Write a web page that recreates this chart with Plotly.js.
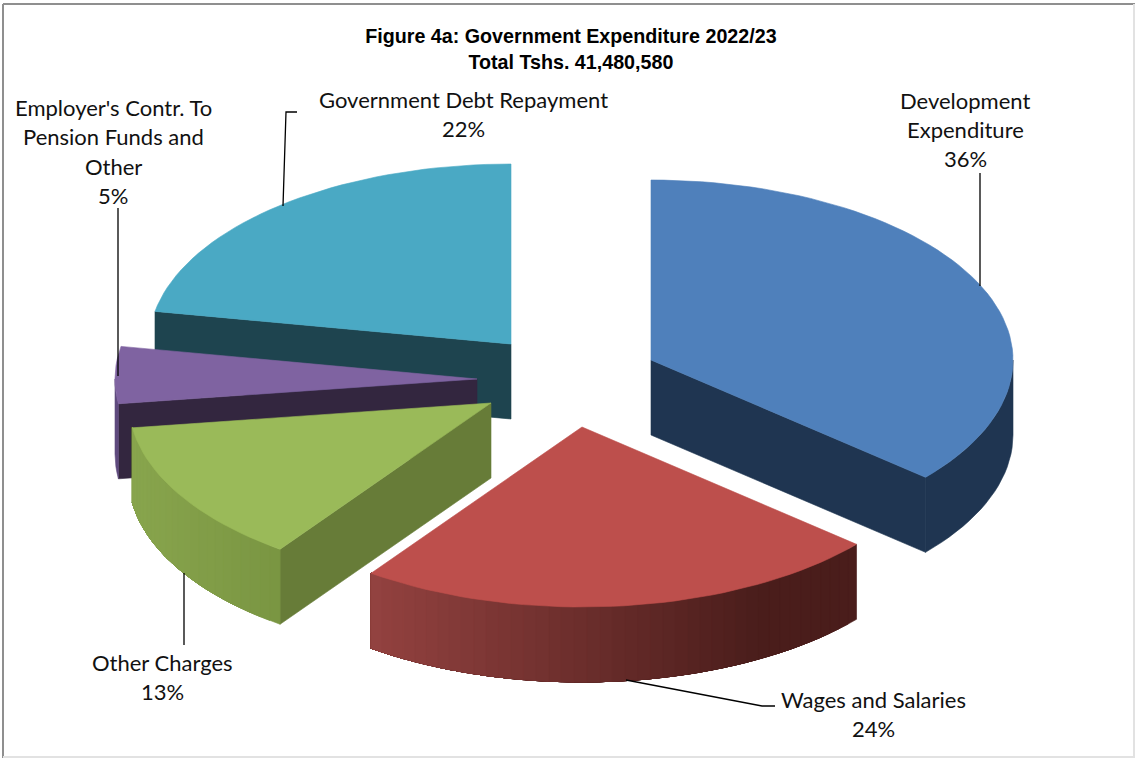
<!DOCTYPE html>
<html>
<head>
<meta charset="utf-8">
<script src="https://cdn.plot.ly/plotly-3.0.1.min.js"></script>
<style>html,body{margin:0;padding:0;background:#fff}#chart{width:1135px;height:758px}</style>
</head>
<body>
<div id="chart"></div>
<script>
// ---- chart values (clockwise from 12 o'clock) ----
var categories = ["Development Expenditure", "Wages and Salaries", "Other Charges", "Employer's Contr. To Pension Funds and Other", "Government Debt Repayment"];
var shares = [36.3, 23.6, 12.9, 5.1, 22.1];
var chartTitle = "Figure 4a: Government Expenditure 2022/23";
var chartSubtitle = "Total Tshs. 41,480,580";

// ---- drawing style: a tilted, exploded pie on pixel-scaled axes ----
var RX = 362, RY = 180, DEPTH = 75, W = 1135, H = 758;
var apexX = [651, 582, 491, 477, 511];
var apexY = [360, 427, 403, 379, 344];
var topColor = ["#4f80bb", "#bd4f4c", "#9aba59", "#7f63a1", "#4aa9c4"];
var wallColor = ["#1f3551", null, "#677c38", "#33263f", "#1e444f"];
var wallEdge = ["end", null, "start", "start", "start"]; // which radial edge faces the viewer
var rimLeft = ["#1f3551", "#934240", "#88a54d", "#5f4a7e", null];
var rimRight = ["#1f3551", "#4a1d1b", "#7a9542", "#5f4a7e", null];
var drawOrder = [4, 3, 2, 1, 0];

var RAD = Math.PI / 180;
function px(i, a) { return apexX[i] + RX * Math.sin(a * RAD); }
function py(i, a) { return apexY[i] - RY * Math.cos(a * RAD); }
function hex(c) { return [1, 3, 5].map(function (k) { return parseInt(c.substr(k, 2), 16); }); }
function mix(a, b, t) {
  var p = hex(a), q = hex(b);
  return "rgb(" + p.map(function (v, k) { return Math.round(v + (q[k] - v) * t); }).join(",") + ")";
}
function poly(xs, ys, color, lw) {
  return {
    type: "scatter", mode: "lines", x: xs, y: ys, fill: "toself", fillcolor: color,
    line: { color: color, width: lw }, hoverinfo: "skip", showlegend: false
  };
}
// curved band of the rim between two angles, from the top edge down to the bottom edge
function band(i, u, v, color) {
  var xs = [], ys = [], n = Math.max(2, Math.round(Math.abs(v - u) / 2)), k, a;
  for (k = 0; k <= n; k++) { a = u + (v - u) * k / n; xs.push(px(i, a)); ys.push(py(i, a)); }
  for (k = n; k >= 0; k--) { a = u + (v - u) * k / n; xs.push(px(i, a)); ys.push(py(i, a) + DEPTH); }
  xs.push(xs[0]); ys.push(ys[0]);
  return poly(xs, ys, color, 0.6);
}

var total = shares.reduce(function (a, b) { return a + b; }, 0);
var startAngle = [], endAngle = [], acc = 0;
shares.forEach(function (v) {
  startAngle.push(acc / total * 360);
  acc += v;
  endAngle.push(acc / total * 360);
});
// the part of each rim that faces the viewer runs between 90 and 270 degrees
function clampFront(a) { return Math.max(90, Math.min(270, a)); }

var traces = [];
drawOrder.forEach(function (i) {
  var a0 = startAngle[i], a1 = endAngle[i];

  // flat wall along the radial edge that faces the viewer
  if (wallColor[i]) {
    var e = wallEdge[i] === "start" ? a0 : a1;
    traces.push(poly(
      [apexX[i], px(i, e), px(i, e), apexX[i], apexX[i]],
      [apexY[i], py(i, e), py(i, e) + DEPTH, apexY[i] + DEPTH, apexY[i]],
      wallColor[i], 0.6));
  }

  // curved outer rim, shaded along x; later bands overlap earlier ones so no seams show
  if (rimLeft[i]) {
    var r0 = clampFront(a0), r1 = clampFront(a1);
    var xa = px(i, r0), xb = px(i, r1), xl = Math.min(xa, xb), xr = Math.max(xa, xb);
    var n = rimLeft[i] === rimRight[i] ? 1 : Math.max(4, Math.round((r1 - r0) / 2));
    for (var s = 0; s < n; s++) {
      var u = r0 + (r1 - r0) * s / n;
      var t = (px(i, u + (r1 - r0) / n / 2) - xl) / ((xr - xl) || 1);
      if (i === 1) { t = Math.min(1, t * 1.25); }
      traces.push(band(i, u, r1, mix(rimLeft[i], rimRight[i], t)));
    }
  }

  // top face
  var xs = [apexX[i]], ys = [apexY[i]];
  var steps = Math.max(8, Math.round((a1 - a0) / 2));
  for (var k = 0; k <= steps; k++) {
    var a = a0 + (a1 - a0) * k / steps;
    xs.push(px(i, a)); ys.push(py(i, a));
  }
  xs.push(apexX[i]); ys.push(apexY[i]);
  var tr = poly(xs, ys, topColor[i], 0.6);
  tr.name = categories[i];
  traces.push(tr);
});

// ---- labels and leader lines ----
function pct(i) { return Math.round(shares[i]) + "%"; }
var labelLines = [
  ["Development", "Expenditure", pct(0)],
  ["Wages and Salaries", pct(1)],
  ["Other Charges", pct(2)],
  ["Employer's Contr. To", "Pension Funds and", "Other", pct(3)],
  ["Government Debt Repayment", pct(4)]
];
var labelX = [965, 873, 162, 113, 463];
var labelY = [100, 699, 662, 107.5, 99];
var annotations = [];
labelLines.forEach(function (lines, i) {
  lines.forEach(function (txt, j) {
    annotations.push({
      xref: "x", yref: "y", x: labelX[i], y: labelY[i] + j * 29.4, text: txt, showarrow: false,
      xanchor: "center", yanchor: "middle",
      font: { family: "Lato, sans-serif", size: 22, color: "#111111" }
    });
  });
});

var leaders = [
  [[980, 980], [286, 173]],
  [[626, 762, 775], [680, 706, 706]],
  [[184, 184], [573, 645]],
  [[118, 118], [376, 208]],
  [[283, 286, 297], [206, 112, 112]]
];
leaders.forEach(function (l) {
  traces.push({
    type: "scatter", mode: "lines", x: l[0], y: l[1],
    line: { color: "#000000", width: 1.3 }, hoverinfo: "skip", showlegend: false
  });
});

function edge(x0, y0, x1, y1, color) {
  return { type: "line", xref: "x", yref: "y", x0: x0, y0: y0, x1: x1, y1: y1, line: { color: color, width: 2 }, layer: "below" };
}

var layout = {
  width: W, height: H,
  margin: { l: 0, r: 0, t: 0, b: 0 },
  paper_bgcolor: "#ffffff", plot_bgcolor: "#ffffff",
  showlegend: false,
  title: {
    text: chartTitle + "<br>" + chartSubtitle,
    x: 0.503, xanchor: "center", xref: "paper",
    y: 0.943, yanchor: "top", yref: "container",
    font: { family: "'Liberation Sans', sans-serif", size: 19.7, color: "#000000", weight: "bold" }
  },
  xaxis: { range: [0, W], visible: false, fixedrange: true },
  yaxis: { range: [H, 0], visible: false, fixedrange: true },
  annotations: annotations,
  shapes: [
    edge(3, 4, 1135, 4, "#8f8f8f"),
    edge(3, 4, 3, 758, "#8f8f8f"),
    edge(3, 757, 1135, 757, "#e2e2e2"),
    edge(1134, 4, 1134, 758, "#e2e2e2")
  ]
};
Plotly.newPlot("chart", traces, layout, { displayModeBar: false, responsive: false });
</script>
</body>
</html>
